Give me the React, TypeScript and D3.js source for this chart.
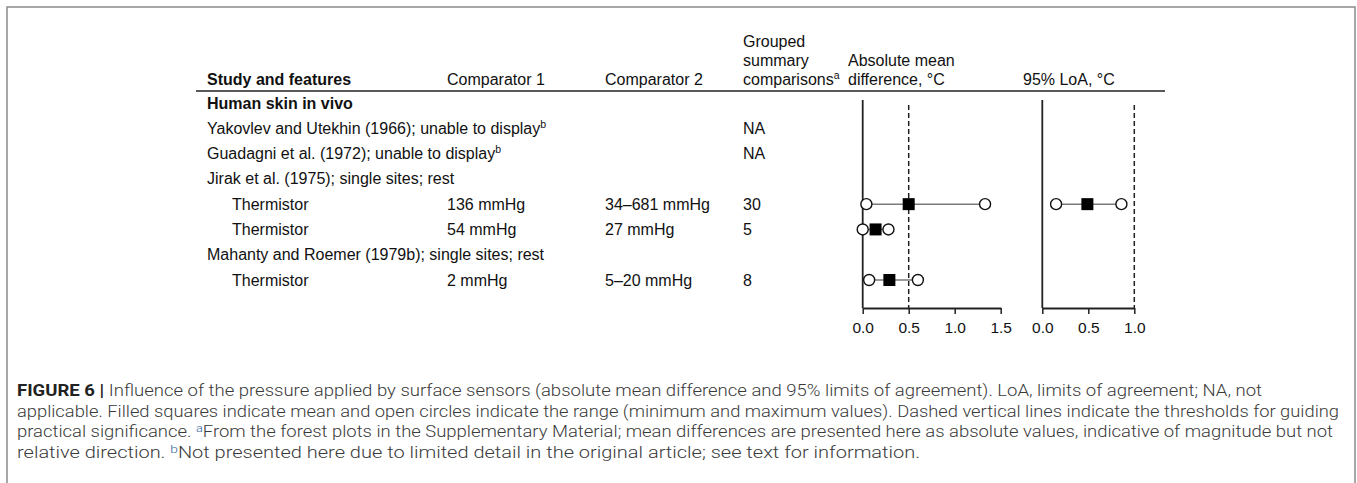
import React, { useEffect, useRef } from 'react';
import * as d3 from 'd3';

// table rows (kind: section / study / item)
const rowLabels = [
  'Human skin in vivo',
  'Yakovlev and Utekhin (1966); unable to display',
  'Guadagni et al. (1972); unable to display',
  'Jirak et al. (1975); single sites; rest',
  'Thermistor',
  'Thermistor',
  'Mahanty and Roemer (1979b); single sites; rest',
  'Thermistor',
];
const rowKinds = ['section', 'study', 'study', 'study', 'item', 'item', 'study', 'item'];
const rowNotes = ['', 'b', 'b', '', '', '', '', ''];
const comparator1 = ['', '', '', '', '136 mmHg', '54 mmHg', '', '2 mmHg'];
const comparator2 = ['', '', '', '', '34–681 mmHg', '27 mmHg', '', '5–20 mmHg'];
const groupedComparisons = ['', 'NA', 'NA', '', '30', '5', '', '8'];

// absolute mean difference, °C (min, mean, max)
const meanMin = [null, null, null, null, 0.04, 0.0, null, 0.07];
const meanAvg = [null, null, null, null, 0.5, 0.14, null, 0.29];
const meanMax = [null, null, null, null, 1.33, 0.28, null, 0.6];

// 95% LoA, °C (min, mean, max)
const loaMin = [null, null, null, null, 0.15, null, null, null];
const loaAvg = [null, null, null, null, 0.49, null, null, null];
const loaMax = [null, null, null, null, 0.86, null, null, null];

const meanTicks = [0, 0.5, 1.0, 1.5];
const loaTicks = [0, 0.5, 1.0];
const meanThreshold = 0.5;
const loaThreshold = 1.0;

const captionLines = [
  [
    { t: 'FIGURE 6 | ', b: true },
    { t: 'Influence of the pressure applied by surface sensors (absolute mean difference and 95% limits of agreement). LoA, limits of agreement; NA, not' },
  ],
  [{ t: 'applicable. Filled squares indicate mean and open circles indicate the range (minimum and maximum values). Dashed vertical lines indicate the thresholds for guiding' }],
  [
    { t: 'practical significance. ' },
    { t: 'a', sup: true },
    { t: 'From the forest plots in the Supplementary Material; mean differences are presented here as absolute values, indicative of magnitude but not' },
  ],
  [
    { t: 'relative direction. ' },
    { t: 'b', sup: true },
    { t: 'Not presented here due to limited detail in the original article; see text for information.' },
  ],
];
const captionWidths = [1245, 1322, 1316, 903];

const W = 1357;
const H = 483;
const FONT = '"Liberation Sans", Arial, sans-serif';

const App = () => {
  const ref = useRef(null);

  useEffect(() => {
    const svg = d3.select(ref.current);
    svg.selectAll('*').remove();

    // outer frame
    svg
      .append('rect')
      .attr('x', 7)
      .attr('y', 7)
      .attr('width', 1348)
      .attr('height', 490)
      .attr('fill', 'none')
      .attr('stroke', '#8a8a8a')
      .attr('stroke-width', 1.5);

    const g = svg.append('g').style('font-family', FONT).style('font-size', '16px').attr('fill', '#111');

    const colX = { study: 207, item: 232, c1: 447, c2: 605, grp: 743, abs: 848, loa: 1023 };

    // headers, bottom line sits just above the rule
    const header = (x, lines, bold = false, sup = '') => {
      const t = g.append('text').style('font-weight', bold ? 'bold' : 'normal');
      lines.forEach((l, i) => {
        t.append('tspan')
          .attr('x', x)
          .attr('y', 85 - (lines.length - 1 - i) * 19)
          .text(l);
        if (i === lines.length - 1 && sup) {
          t.append('tspan').attr('dy', -6).style('font-size', '10.5px').text(sup);
        }
      });
    };
    header(colX.study, ['Study and features'], true);
    header(colX.c1, ['Comparator 1']);
    header(colX.c2, ['Comparator 2']);
    header(colX.grp, ['Grouped', 'summary', 'comparisons'], false, 'a');
    header(colX.abs, ['Absolute mean', 'difference, °C']);
    header(colX.loa, ['95% LoA, °C']);

    g.append('line')
      .attr('x1', 196)
      .attr('x2', 1165)
      .attr('y1', 91)
      .attr('y2', 91)
      .attr('stroke', '#222')
      .attr('stroke-width', 1.5);

    const y = d3.scaleLinear().domain([0, rowLabels.length - 1]).range([103, 280]);

    rowLabels.forEach((label, i) => {
      const t = g
        .append('text')
        .attr('x', rowKinds[i] === 'item' ? colX.item : colX.study)
        .attr('y', y(i))
        .attr('dy', '0.35em')
        .style('font-weight', rowKinds[i] === 'section' ? 'bold' : 'normal')
        .text(label);
      if (rowNotes[i]) t.append('tspan').attr('dy', -6).style('font-size', '10.5px').text(rowNotes[i]);
      [
        [comparator1[i], colX.c1],
        [comparator2[i], colX.c2],
        [groupedComparisons[i], colX.grp],
      ].forEach(([v, x]) => {
        if (v) g.append('text').attr('x', x).attr('y', y(i)).attr('dy', '0.35em').text(v);
      });
    });

    // forest panels
    const axisTop = 100;
    const axisY = 308;
    const panel = (x0, ticks, thr, mins, avgs, maxs) => {
      const domainMax = ticks[ticks.length - 1];
      const x = d3.scaleLinear().domain([0, domainMax]).range([x0, x0 + 92 * domainMax]);
      const p = svg.append('g');

      p.append('line')
        .attr('x1', x(0))
        .attr('x2', x(0))
        .attr('y1', axisTop)
        .attr('y2', axisY)
        .attr('stroke', '#222')
        .attr('stroke-width', 1.8);

      p.append('line')
        .attr('x1', x(thr))
        .attr('x2', x(thr))
        .attr('y1', axisTop + 5)
        .attr('y2', axisY)
        .attr('stroke', '#222')
        .attr('stroke-width', 1.5)
        .attr('stroke-dasharray', '5,3');

      const ax = p
        .append('g')
        .attr('transform', `translate(0,${axisY})`)
        .call(d3.axisBottom(x).tickValues(ticks).tickFormat(d3.format('.1f')).tickSize(6).tickSizeOuter(0).tickPadding(8));
      ax.select('.domain').attr('stroke', '#222').attr('stroke-width', 1.8);
      ax.selectAll('.tick line').attr('stroke', '#222').attr('stroke-width', 1.5);
      ax.selectAll('.tick text').attr('fill', '#111').style('font-family', FONT).style('font-size', '15.5px');

      rowLabels.forEach((_, i) => {
        if (avgs[i] == null) return;
        const cy = y(i);
        p.append('line')
          .attr('x1', x(mins[i]))
          .attr('x2', x(maxs[i]))
          .attr('y1', cy)
          .attr('y2', cy)
          .attr('stroke', '#7a7a7a')
          .attr('stroke-width', 1.5);
        [mins[i], maxs[i]].forEach((v) => {
          p.append('circle')
            .attr('cx', x(v))
            .attr('cy', cy)
            .attr('r', 5.5)
            .attr('fill', '#fff')
            .attr('stroke', '#111')
            .attr('stroke-width', 1.4);
        });
        p.append('rect')
          .attr('x', x(avgs[i]) - 6)
          .attr('y', cy - 6)
          .attr('width', 12)
          .attr('height', 12)
          .attr('fill', '#000');
      });
    };
    panel(862.7, meanTicks, meanThreshold, meanMin, meanAvg, meanMax);
    panel(1042.3, loaTicks, loaThreshold, loaMin, loaAvg, loaMax);

    // caption
    const cap = svg.append('g').style('font-family', '"Roboto", "Liberation Sans", sans-serif').style('font-size', '16px');
    captionLines.forEach((segs, i) => {
      const t = cap
        .append('text')
        .attr('x', 17)
        .attr('y', 396 + i * 20.6)
        .attr('fill', '#3a3a3a')
        .style('font-weight', 300)
        .attr('textLength', captionWidths[i])
        .attr('lengthAdjust', 'spacingAndGlyphs');
      segs.forEach((s, k) => {
        const ts = t.append('tspan').text(s.t);
        if (s.b) ts.style('font-weight', 'bold').attr('fill', '#222');
        if (s.sup) ts.attr('fill', '#2f5f9e').style('font-size', '11px').attr('dy', -5);
        else if (k > 0 && segs[k - 1].sup) ts.attr('dy', 5);
      });
    });
  }, []);

  return (
    <svg
      ref={ref}
      width={W}
      height={H}
      style={{ position: 'absolute', left: 0, top: 0, background: '#fff' }}
    />
  );
};

export default App;
